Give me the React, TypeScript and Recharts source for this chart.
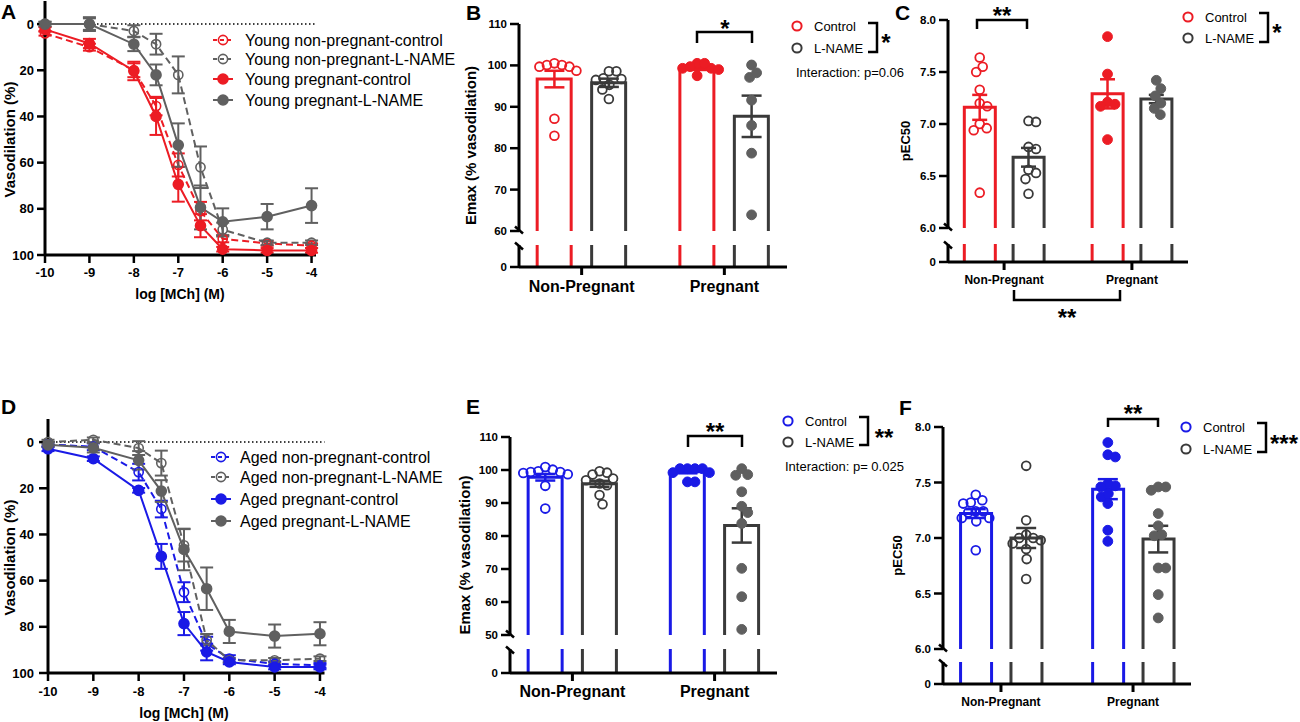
import React from 'react';
import { ComposedChart, LineChart, Line, Bar, Scatter, XAxis, YAxis, ErrorBar, ReferenceLine } from 'recharts';

const FONT = '"Liberation Sans", Arial, Helvetica, sans-serif';
const RED = '#ec1c24';
const BLUE = '#1a1ae6';
const GREY = '#606060';
const GREY_DOT = '#5f5f5f';
const GREY_OPEN = '#3a3a3a';
const GREY_BAR = '#3a3a3a';
const BLACK = '#000000';

// ---------------- Concentration-response curves (A, D) ----------------
const logMCh = [-10, -9, -8, -7.5, -7, -6.5, -6, -5, -4];
const logMChTicks = [-10, -9, -8, -7, -6, -5, -4];
const vasodilationTicks = [0, 20, 40, 60, 80, 100];

const youngNonPregControl = [4, 10, 20, 35.5, 61, 81, 93, 95, 96];
const youngNonPregControlSem = [1, 1.5, 3, 4, 5, 4, 1.5, 1, 1];
const youngNonPregLName = [0, 0, 3, 8.7, 22, 62, 89, 94.7, 94.7];
const youngNonPregLNameSem = [1, 2.5, 2.5, 4.5, 8, 9, 3, 1, 1];
const youngPregControl = [2.3, 8.4, 20.3, 40, 69.4, 87.3, 97.5, 98, 98];
const youngPregControlSem = [1, 2, 4, 8, 7.5, 5, 1, 1, 1];
const youngPregLName = [0, 0, 8.7, 22, 52.4, 79.4, 85.6, 83.4, 78.6];
const youngPregLNameSem = [1, 3, 3, 4.5, 9.4, 9.5, 5.8, 5.5, 7.5];

const agedNonPregControl = [1, 2, 13, 29, 65, 87.3, 93.8, 96, 96.7];
const agedNonPregControlSem = [1, 1.5, 3.6, 3.6, 4.3, 3, 1.5, 1, 1];
const agedNonPregLName = [0, -1, 2.6, 9.1, 44.7, 85.6, 94.5, 94.5, 93.8];
const agedNonPregLNameSem = [1, 1, 3, 5.4, 7, 2.5, 1, 1, 1];
const agedPregControl = [2.9, 7.2, 20.9, 49.5, 78.6, 90.9, 95.2, 97.4, 97.4];
const agedPregControlSem = [1, 1, 1, 5.4, 5, 3.6, 1, 1, 1];
const agedPregLName = [1.2, 2.5, 7.9, 21.2, 46.5, 63.5, 82, 84, 83];
const agedPregLNameSem = [1, 2, 4, 4.7, 9, 9.2, 5, 5, 5];

const youngCurveLabels = ['Young non-pregnant-control', 'Young non-pregnant-L-NAME', 'Young pregnant-control', 'Young pregnant-L-NAME'];
const agedCurveLabels = ['Aged non-pregnant-control', 'Aged non-pregnant-L-NAME', 'Aged pregnant-control', 'Aged pregnant-L-NAME'];

// ---------------- Bar + dot panels (B, C, E, F) ----------------
const groupLabels = ['Non-Pregnant', 'Pregnant'];
const treatmentLabels = ['Control', 'L-NAME'];
const emaxYoungTicks = [60, 70, 80, 90, 100, 110];
const emaxAgedTicks = [50, 60, 70, 80, 90, 100, 110];
const pec50Ticks = [6.0, 6.5, 7.0, 7.5, 8.0];

// order: non-pregnant control, non-pregnant L-NAME, pregnant control, pregnant L-NAME
const emaxYoungMean = [96.7, 95.8, 99.3, 87.7];
const emaxYoungSem = [2.0, 1.0, 0.4, 5.0];
const emaxYoungNonPregControl = [100.1, 100.5, 100.1, 99.7, 99.7, 98.7, 87.1, 83.0];
const emaxYoungNonPregLName = [98.6, 98.6, 96.9, 96.5, 96.7, 95.3, 94.2, 91.9];
const emaxYoungPregControl = [99.3, 100.5, 99.3, 99.7, 100.5, 97.5, 99.0];
const emaxYoungPregLName = [100.1, 97.1, 98.2, 91.6, 85.5, 78.8, 63.9];

const pec50YoungMean = [7.16, 6.68, 7.29, 7.24];
const pec50YoungSem = [0.12, 0.09, 0.14, 0.04];
const pec50YoungNonPregControl = [7.55, 7.64, 7.5, 7.33, 7.2, 7.17, 7.0, 6.96, 6.94, 6.34];
const pec50YoungNonPregLName = [7.03, 7.02, 6.78, 6.76, 6.56, 6.53, 6.47, 6.33];
const pec50YoungPregControl = [7.84, 7.48, 7.21, 7.17, 7.19, 6.85];
const pec50YoungPregLName = [7.34, 7.42, 7.2, 7.27, 7.09, 7.15];

const emaxAgedMean = [97.8, 95.8, 99.5, 83.2];
const emaxAgedSem = [1.0, 0.9, 0.5, 5.2];
const emaxAgedNonPregControl = [99.1, 99.6, 100.1, 100.9, 99.4, 99.4, 98.7, 95.2, 88.3];
const emaxAgedNonPregLName = [98.6, 99.6, 99.2, 96.9, 97.4, 95.9, 95.4, 92.4, 89.6];
const emaxAgedPregControl = [100.4, 100.4, 100.4, 100.4, 99.2, 99.2, 96.4, 96.4];
const emaxAgedPregLName = [100.4, 98.6, 98.4, 93.4, 89.0, 87.1, 83.8, 70.2, 61.6, 51.7];

const pec50AgedMean = [7.22, 7.0, 7.44, 6.99];
const pec50AgedSem = [0.04, 0.09, 0.09, 0.12];
const pec50AgedNonPregControl = [7.39, 7.31, 7.34, 7.32, 7.23, 7.24, 7.24, 7.18, 7.15, 7.18, 6.89];
const pec50AgedNonPregLName = [7.65, 7.16, 7.03, 7.0, 6.98, 6.95, 6.9, 6.81, 6.63, 7.0];
const pec50AgedPregControl = [7.86, 7.75, 7.73, 7.47, 7.49, 7.46, 7.37, 7.4, 7.31, 7.07, 6.97];
const pec50AgedPregLName = [7.43, 7.46, 7.46, 7.22, 7.02, 7.03, 7.11, 6.73, 6.73, 6.49, 6.28];

// ---------------- helpers ----------------
const tickStyle = (size: number) => ({ fontSize: size, fontWeight: 700, fill: BLACK, fontFamily: FONT });

type CurveSeries = { values: number[]; sem: number[]; color: string; dashed: boolean; filled: boolean };

function CurvePanel(props: {
  chartTop: number; plotLeft: number; plotTop: number; plotRight: number; plotBottom: number;
  series: CurveSeries[]; yTickSize: number; yTickMargin: number; xTickMargin: number;
}) {
  const { chartTop, plotLeft, plotTop, plotRight, plotBottom, series } = props;
  const xAxisH = 46;
  const width = plotRight + 12;
  const height = plotBottom - chartTop + xAxisH;
  const rows = logMCh.map((x, i) => {
    const r: any = { x };
    series.forEach((s, k) => {
      r['v' + k] = s.values[i];
      r['e' + k] = s.sem[i];
    });
    return r;
  });
  const makeDot = (s: CurveSeries) => (p: any) => (
    <circle
      key={'dot' + p.index}
      cx={p.cx}
      cy={p.cy}
      r={s.filled ? 5 : 4.6}
      fill={s.filled ? s.color : 'none'}
      stroke={s.color}
      strokeWidth={1.6}
      strokeDasharray="none"
    />
  );
  return (
    <div style={{ position: 'absolute', left: 0, top: chartTop }}>
      <LineChart
        width={width}
        height={height}
        data={rows}
        margin={{ top: plotTop - chartTop, right: width - plotRight, bottom: 0, left: 0 }}
      >
        <XAxis
          type="number"
          dataKey="x"
          domain={[-10, -3.9]}
          ticks={logMChTicks}
          interval={0}
          height={xAxisH}
          tickSize={8}
          tickMargin={props.xTickMargin}
          axisLine={{ stroke: BLACK, strokeWidth: 3 }}
          tickLine={{ stroke: BLACK, strokeWidth: 2.5 }}
          tick={tickStyle(13)}
        />
        <YAxis
          type="number"
          reversed
          domain={[-10, 100]}
          ticks={vasodilationTicks}
          interval={0}
          width={plotLeft}
          tickSize={props.yTickSize}
          tickMargin={props.yTickMargin}
          axisLine={{ stroke: BLACK, strokeWidth: 3 }}
          tickLine={{ stroke: BLACK, strokeWidth: 2.5 }}
          tick={tickStyle(13)}
        />
        <ReferenceLine y={0} stroke={BLACK} strokeWidth={1.5} strokeDasharray="1.5 2.5" />
        {series.map((s, k) => (
          <Line
            key={k}
            type="linear"
            dataKey={'v' + k}
            stroke={s.color}
            strokeWidth={2}
            strokeDasharray={s.dashed ? '7 4' : undefined}
            dot={makeDot(s)}
            activeDot={false}
            isAnimationActive={false}
          >
            <ErrorBar dataKey={'e' + k} direction="y" width={6.5} stroke={s.color} strokeWidth={2} />
          </Line>
        ))}
      </LineChart>
    </div>
  );
}

// beeswarm-like horizontal spreading of points (elliptical collision zone, in pixels)
function swarmOffsets(vals: number[], pxPerVal: number, ax: number, ay: number): number[] {
  const order = vals.map((_, i) => i).sort((a, b) => vals[b] - vals[a]);
  const placed: [number, number][] = [];
  const out = vals.map(() => 0);
  for (const i of order) {
    const y = vals[i] * pxPerVal;
    for (let k = 0; k < 400; k++) {
      const c = (k % 2 === 1 ? 1 : -1) * Math.ceil(k / 2) * 0.5;
      const free = placed.every(([px, py]) => ((px - c) / ax) ** 2 + ((py - y) / ay) ** 2 >= 1);
      if (free) {
        out[i] = c;
        placed.push([c, y]);
        break;
      }
    }
  }
  return out;
}

const X_DOMAIN: [number, number] = [0.35, 5.27];
const GROUP_STEP = 2.62;
const barPos = (i: number) => 1 + Math.floor(i / 2) * GROUP_STEP + (i % 2);
const groupTicks = [1.5, 1.5 + GROUP_STEP];

type BarCfg = {
  axisX: number; plotRight: number; upperTop: number; upperBottom: number; stubTop: number; stubBottom: number;
  domain: [number, number]; ticks: number[]; decimals: number;
  means: number[]; sems: number[]; points: number[][]; color: string;
  barSize: number; catFont: number; catMargin: number; errW: number;
};

function BarPanel({ cfg }: { cfg: BarCfg }) {
  const YW = 60, MT = 22, MB = 12, MR = 10, STUB_MT = 2;
  const chartLeft = cfg.axisX - YW;
  const width = cfg.plotRight - chartLeft + MR;
  const plotW = cfg.plotRight - cfg.axisX;
  const plotH = cfg.upperBottom - cfg.upperTop;
  const pxPerX = plotW / (X_DOMAIN[1] - X_DOMAIN[0]);
  const pxPerY = plotH / (cfg.domain[1] - cfg.domain[0]);
  const rows = cfg.means.map((m, i) => ({ x: barPos(i), mean: m, sem: cfg.sems[i] }));
  const barColor = (i: number) => (i % 2 === 0 ? cfg.color : GREY_BAR);
  const idxOf = (p: any) => (typeof p.index === 'number' ? p.index : rows.findIndex((r) => r.x === p.payload?.x));
  const pointSets = cfg.points.map((vals, i) => {
    const offs = swarmOffsets(vals, pxPerY, 7.4, 10);
    return vals.map((v, j) => ({ x: barPos(i) + offs[j] / pxPerX, y: v }));
  });
  const dotShape = (i: number) => (p: any) => {
    const open = i < 2;
    const c = i % 2 === 0 ? cfg.color : open ? GREY_OPEN : GREY_DOT;
    return (
      <circle cx={p.cx} cy={p.cy} r={open ? 4.4 : 4.9} fill={open ? 'none' : c} stroke={c} strokeWidth={open ? 1.8 : 1} />
    );
  };
  const upperShape = (p: any) => {
    const { x, y, width: w, height: h } = p;
    const c = barColor(idxOf(p));
    return <path d={`M${x},${y + h} L${x},${y} L${x + w},${y} L${x + w},${y + h}`} fill="none" stroke={c} strokeWidth={3} />;
  };
  const stubShape = (p: any) => {
    const { x, y, width: w, height: h } = p;
    const c = barColor(idxOf(p));
    const top = Math.max(y, STUB_MT);
    return (
      <g>
        <line x1={x} y1={top} x2={x} y2={y + h} stroke={c} strokeWidth={3} />
        <line x1={x + w} y1={top} x2={x + w} y2={y + h} stroke={c} strokeWidth={3} />
      </g>
    );
  };
  const errRows = [0, 1].map((t) => rows.filter((_, i) => i % 2 === t).map((r) => ({ x: r.x, y: r.mean, sem: r.sem })));
  const fmt = (v: number) => v.toFixed(cfg.decimals);
  const yAxisCommon = {
    width: YW,
    tickSize: 9,
    tickMargin: 3,
    interval: 0 as const,
    axisLine: { stroke: BLACK, strokeWidth: 3 },
    tickLine: { stroke: BLACK, strokeWidth: 2.5 },
    tick: tickStyle(11.5),
  };
  const upperBox = { position: 'absolute' as const, left: chartLeft, top: cfg.upperTop - MT };
  const upperMargin = { top: MT, right: MR, bottom: MB, left: 0 };
  const hiddenX = (
    <XAxis type="number" dataKey="x" domain={X_DOMAIN} ticks={groupTicks} interval={0} height={0} tick={false} tickLine={false} axisLine={false} />
  );
  return (
    <>
      {/* bars with the visible value axis */}
      <div style={upperBox}>
        <ComposedChart width={width} height={plotH + MT + MB} data={rows} margin={upperMargin}>
          {hiddenX}
          <YAxis type="number" domain={cfg.domain} ticks={cfg.ticks} tickFormatter={fmt} {...yAxisCommon} />
          <Bar dataKey="mean" barSize={cfg.barSize} shape={upperShape} isAnimationActive={false} />
        </ComposedChart>
      </div>
      {/* individual points and SEM on the same scales */}
      <div style={upperBox}>
        <ComposedChart width={width} height={plotH + MT + MB} margin={upperMargin}>
          {hiddenX}
          <YAxis type="number" domain={cfg.domain} ticks={cfg.ticks} width={YW} tick={false} tickLine={false} axisLine={false} />
          {pointSets.map((d, i) => (
            <Scatter key={'p' + i} data={d} dataKey="y" shape={dotShape(i)} isAnimationActive={false} />
          ))}
          {errRows.map((d, t) => (
            <Scatter key={'e' + t} data={d} dataKey="y" shape={() => <g />} isAnimationActive={false}>
              <ErrorBar dataKey="sem" direction="y" width={cfg.errW} stroke={t === 0 ? cfg.color : GREY_BAR} strokeWidth={2.5} />
            </Scatter>
          ))}
        </ComposedChart>
      </div>
      {/* stub below the axis break */}
      <div style={{ position: 'absolute', left: chartLeft, top: cfg.stubTop - STUB_MT }}>
        <ComposedChart
          width={width}
          height={cfg.stubBottom - cfg.stubTop + STUB_MT + 40}
          data={rows}
          margin={{ top: STUB_MT, right: MR, bottom: 0, left: 0 }}
        >
          <XAxis
            type="number"
            dataKey="x"
            domain={X_DOMAIN}
            ticks={groupTicks}
            interval={0}
            tickFormatter={(v: number) => (v < 3 ? groupLabels[0] : groupLabels[1])}
            height={40}
            tickSize={8}
            tickMargin={cfg.catMargin}
            axisLine={{ stroke: BLACK, strokeWidth: 3 }}
            tickLine={{ stroke: BLACK, strokeWidth: 3 }}
            tick={tickStyle(cfg.catFont)}
          />
          <YAxis type="number" domain={[0, cfg.domain[0]]} ticks={[0]} allowDataOverflow tickFormatter={(v: number) => String(v)} {...yAxisCommon} />
          <Bar dataKey="mean" barSize={cfg.barSize} shape={stubShape} isAnimationActive={false} />
        </ComposedChart>
      </div>
    </>
  );
}

// ---------------- overlay annotations ----------------
function Txt(props: { x: number; y: number; size: number; bold?: boolean; anchor?: 'start' | 'middle' | 'end'; rotate?: boolean; children: React.ReactNode }) {
  const { x, y, size, bold, anchor = 'start', rotate, children } = props;
  return (
    <text
      x={x}
      y={y}
      dy={0.36 * size}
      fontSize={size}
      fontWeight={bold ? 700 : 400}
      textAnchor={anchor}
      fill={BLACK}
      fontFamily={FONT}
      transform={rotate ? `rotate(-90 ${x} ${y})` : undefined}
    >
      {children}
    </text>
  );
}

function Stars({ x, y, n }: { x: number; y: number; n: number }) {
  const size = 24;
  return (
    <text x={x} y={y + 0.575 * size} fontSize={size} fontWeight={700} textAnchor="middle" fill={BLACK} fontFamily={FONT}>
      {'*'.repeat(n)}
    </text>
  );
}

function SigBracket({ x1, x2, y, tick }: { x1: number; x2: number; y: number; tick: number }) {
  return <path d={`M${x1},${y + tick} L${x1},${y} L${x2},${y} L${x2},${y + tick}`} fill="none" stroke={BLACK} strokeWidth={2.5} />;
}

function CurveLegend({ cx, textX, ys, series, labels }: { cx: number; textX: number; ys: number[]; series: CurveSeries[]; labels: string[] }) {
  return (
    <g>
      {series.map((s, k) => (
        <g key={k}>
          <line x1={cx - 10} x2={cx + 10} y1={ys[k]} y2={ys[k]} stroke={s.color} strokeWidth={2} strokeDasharray={s.dashed ? '4 3' : undefined} />
          <circle cx={cx} cy={ys[k]} r={s.filled ? 5 : 4.6} fill={s.filled ? s.color : 'none'} stroke={s.color} strokeWidth={1.6} />
          <Txt x={textX} y={ys[k]} size={16}>{labels[k]}</Txt>
        </g>
      ))}
    </g>
  );
}

function GroupLegend(props: { cx: number; y1: number; y2: number; color: string; bx: number; bTop: number; bBottom: number; stars: number; starX: number; starY: number }) {
  const { cx, y1, y2, color, bx, bTop, bBottom } = props;
  return (
    <g>
      <circle cx={cx} cy={y1} r={4.6} fill="none" stroke={color} strokeWidth={2} />
      <Txt x={cx + 17} y={y1} size={13}>{treatmentLabels[0]}</Txt>
      <circle cx={cx} cy={y2} r={4.6} fill="none" stroke={GREY_OPEN} strokeWidth={2} />
      <Txt x={cx + 17} y={y2} size={13}>{treatmentLabels[1]}</Txt>
      <path d={`M${bx - 9},${bTop} L${bx},${bTop} L${bx},${bBottom} L${bx - 9},${bBottom}`} fill="none" stroke={BLACK} strokeWidth={2.5} />
      <Stars x={props.starX} y={props.starY} n={props.stars} />
    </g>
  );
}

function BreakMarks({ cfg }: { cfg: BarCfg }) {
  const ys = [cfg.upperBottom - 1, cfg.stubTop + 1];
  return (
    <g>
      {ys.map((y, k) => (
        <line key={k} x1={cfg.axisX - 4} y1={y - 3.5} x2={cfg.axisX + 4} y2={y + 3.5} stroke={BLACK} strokeWidth={2.5} />
      ))}
    </g>
  );
}

// ---------------- configurations ----------------
const youngSeries: CurveSeries[] = [
  { values: youngNonPregControl, sem: youngNonPregControlSem, color: RED, dashed: true, filled: false },
  { values: youngNonPregLName, sem: youngNonPregLNameSem, color: GREY, dashed: true, filled: false },
  { values: youngPregControl, sem: youngPregControlSem, color: RED, dashed: false, filled: true },
  { values: youngPregLName, sem: youngPregLNameSem, color: GREY, dashed: false, filled: true },
];
const agedSeries: CurveSeries[] = [
  { values: agedNonPregControl, sem: agedNonPregControlSem, color: BLUE, dashed: true, filled: false },
  { values: agedNonPregLName, sem: agedNonPregLNameSem, color: GREY, dashed: true, filled: false },
  { values: agedPregControl, sem: agedPregControlSem, color: BLUE, dashed: false, filled: true },
  { values: agedPregLName, sem: agedPregLNameSem, color: GREY, dashed: false, filled: true },
];

const panelB: BarCfg = {
  axisX: 519, plotRight: 787, upperTop: 24, upperBottom: 231, stubTop: 245, stubBottom: 267,
  domain: [60, 110], ticks: emaxYoungTicks, decimals: 0,
  means: emaxYoungMean, sems: emaxYoungSem,
  points: [emaxYoungNonPregControl, emaxYoungNonPregLName, emaxYoungPregControl, emaxYoungPregLName],
  color: RED, barSize: 34, catFont: 16, catMargin: 6, errW: 10,
};
const panelC: BarCfg = {
  axisX: 948, plotRight: 1188, upperTop: 20, upperBottom: 228, stubTop: 244, stubBottom: 262,
  domain: [6, 8], ticks: pec50Ticks, decimals: 1,
  means: pec50YoungMean, sems: pec50YoungSem,
  points: [pec50YoungNonPregControl, pec50YoungNonPregLName, pec50YoungPregControl, pec50YoungPregLName],
  color: RED, barSize: 31, catFont: 12, catMargin: 5, errW: 7.5,
};
const panelE: BarCfg = {
  axisX: 510, plotRight: 777, upperTop: 437, upperBottom: 635, stubTop: 649, stubBottom: 673,
  domain: [50, 110], ticks: emaxAgedTicks, decimals: 0,
  means: emaxAgedMean, sems: emaxAgedSem,
  points: [emaxAgedNonPregControl, emaxAgedNonPregLName, emaxAgedPregControl, emaxAgedPregLName],
  color: BLUE, barSize: 34, catFont: 16, catMargin: 5, errW: 10,
};
const panelF: BarCfg = {
  axisX: 943, plotRight: 1191, upperTop: 427, upperBottom: 649, stubTop: 662, stubBottom: 684,
  domain: [6, 8], ticks: pec50Ticks, decimals: 1,
  means: pec50AgedMean, sems: pec50AgedSem,
  points: [pec50AgedNonPregControl, pec50AgedNonPregLName, pec50AgedPregControl, pec50AgedPregLName],
  color: BLUE, barSize: 31, catFont: 12, catMargin: 5, errW: 10,
};

export default function App() {
  return (
    <div style={{ position: 'absolute', left: 0, top: 0, width: 1300, height: 722, background: '#ffffff', fontFamily: FONT, overflow: 'hidden' }}>
      <CurvePanel chartTop={0} plotLeft={45} plotTop={1} plotRight={316} plotBottom={255} series={youngSeries} yTickSize={8} yTickMargin={3} xTickMargin={5} />
      <CurvePanel chartTop={410} plotLeft={48} plotTop={419} plotRight={324.5} plotBottom={673} series={agedSeries} yTickSize={9} yTickMargin={5} xTickMargin={6} />
      <BarPanel cfg={panelB} />
      <BarPanel cfg={panelC} />
      <BarPanel cfg={panelE} />
      <BarPanel cfg={panelF} />
      <svg width={1300} height={722} style={{ position: 'absolute', left: 0, top: 0, pointerEvents: 'none' }}>
        {/* panel letters */}
        <text x={1} y={19} fontSize={21} fontWeight={700} fontFamily={FONT}>A</text>
        <text x={466} y={20} fontSize={21} fontWeight={700} fontFamily={FONT}>B</text>
        <text x={895} y={20} fontSize={21} fontWeight={700} fontFamily={FONT}>C</text>
        <text x={1} y={414} fontSize={21} fontWeight={700} fontFamily={FONT}>D</text>
        <text x={466} y={414} fontSize={21} fontWeight={700} fontFamily={FONT}>E</text>
        <text x={899} y={415} fontSize={21} fontWeight={700} fontFamily={FONT}>F</text>

        {/* axis titles */}
        <Txt x={10} y={139.5} size={15} bold anchor="middle" rotate>Vasodilation (%)</Txt>
        <Txt x={180} y={294} size={14} bold anchor="middle">log [MCh] (M)</Txt>
        <Txt x={10} y={557.5} size={15} bold anchor="middle" rotate>Vasodilation (%)</Txt>
        <Txt x={184} y={713} size={14} bold anchor="middle">log [MCh] (M)</Txt>
        <Txt x={471} y={145.5} size={15} bold anchor="middle" rotate>Emax (% vasodilation)</Txt>
        <Txt x={465} y={555} size={15} bold anchor="middle" rotate>Emax (% vasodilation)</Txt>
        <Txt x={905} y={141} size={13} bold anchor="middle" rotate>pEC50</Txt>
        <Txt x={897} y={555.5} size={13} bold anchor="middle" rotate>pEC50</Txt>

        {/* curve legends */}
        <CurveLegend cx={223} textX={245} ys={[40, 59, 79, 100]} series={youngSeries} labels={youngCurveLabels} />
        <CurveLegend cx={221} textX={240} ys={[457, 477, 499, 521]} series={agedSeries} labels={agedCurveLabels} />

        {/* bar legends */}
        <GroupLegend cx={797} y1={26} y2={48} color={RED} bx={877} bTop={23} bBottom={52} stars={1} starX={886} starY={37} />
        <Txt x={796} y={72} size={13}>Interaction: p=0.06</Txt>
        <GroupLegend cx={1188} y1={17} y2={38} color={RED} bx={1268} bTop={13} bBottom={42} stars={1} starX={1277} starY={27} />
        <GroupLegend cx={788} y1={421} y2={442} color={BLUE} bx={868} bTop={417} bBottom={445} stars={2} starX={884} starY={432} />
        <Txt x={785} y={466} size={13}>Interaction: p= 0.025</Txt>
        <GroupLegend cx={1186} y1={427} y2={449} color={BLUE} bx={1266} bTop={423} bBottom={452} stars={3} starX={1284} starY={438} />

        {/* significance brackets */}
        <SigBracket x1={697} x2={752} y={32} tick={11} />
        <Stars x={725} y={23} n={1} />
        <SigBracket x1={977} x2={1027} y={20} tick={9} />
        <Stars x={1002} y={10} n={2} />
        <SigBracket x1={1014} x2={1120} y={300} tick={-10} />
        <Stars x={1067} y={312} n={2} />
        <SigBracket x1={688} x2={742} y={436} tick={11} />
        <Stars x={715} y={426} n={2} />
        <SigBracket x1={1108} x2={1158} y={419} tick={8} />
        <Stars x={1133} y={408} n={2} />

        {/* axis break marks */}
        <BreakMarks cfg={panelB} />
        <BreakMarks cfg={panelC} />
        <BreakMarks cfg={panelE} />
        <BreakMarks cfg={panelF} />
      </svg>
    </div>
  );
}
